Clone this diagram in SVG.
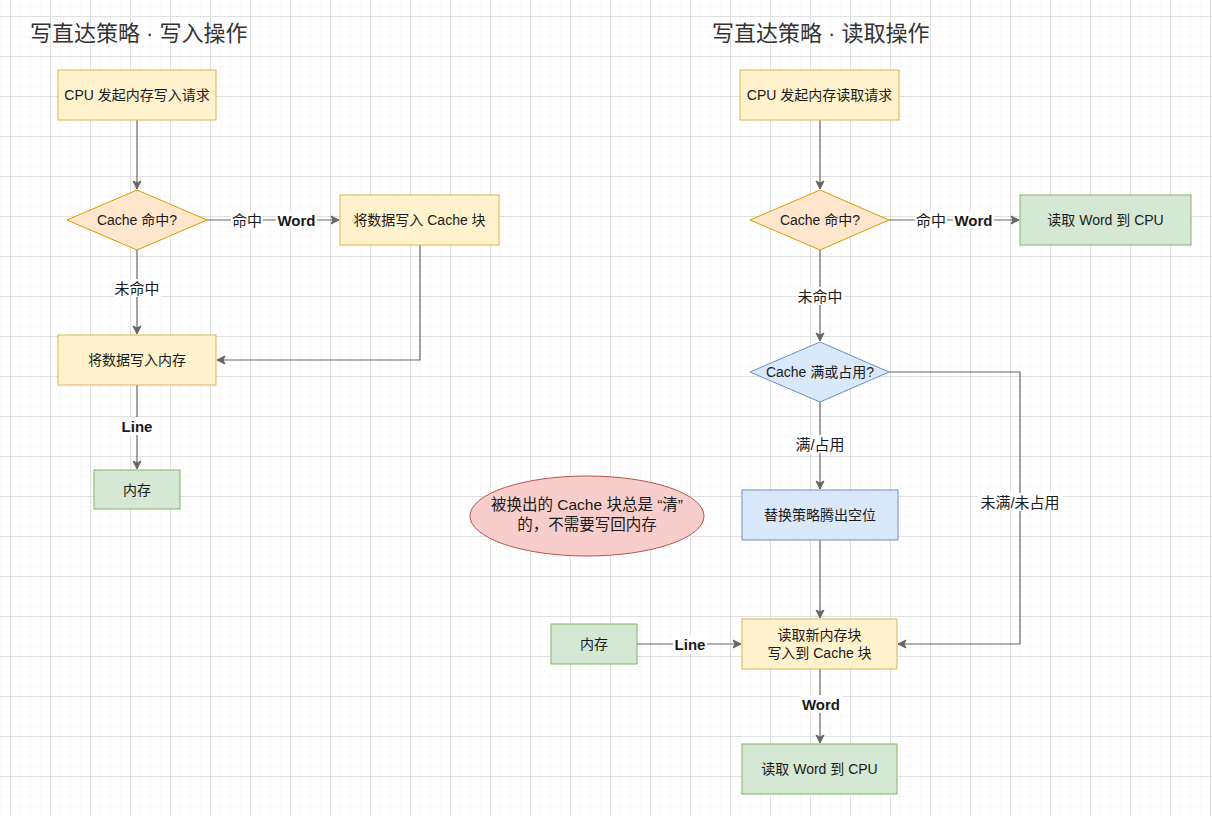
<svg xmlns="http://www.w3.org/2000/svg" width="1212" height="816" viewBox="0 0 1212 816">
<defs>
<pattern id="minor" patternUnits="userSpaceOnUse" x="0" y="6" width="10" height="10">
<path d="M0 0H10M0 0V10" fill="none" stroke="#f3f3f3" stroke-width="1"/>
</pattern>
<pattern id="major" patternUnits="userSpaceOnUse" x="10" y="16" width="40" height="40">
<path d="M0 0.5H40M0.5 0V40" fill="none" stroke="#e0e0e0" stroke-width="1"/>
</pattern>
<marker id="arr" markerWidth="10" markerHeight="10" refX="9" refY="5" orient="auto" markerUnits="userSpaceOnUse">
<path d="M1 1L9 5L1 9L3 5Z" fill="#666" stroke="#666" stroke-width="1"/>
</marker>
<style>
text{font-family:"Liberation Sans","Noto Sans CJK SC",sans-serif;fill:#1a1a1a}
.t{font-size:14px;text-anchor:middle;dominant-baseline:central}
.n{font-size:15.5px}
.title{font-size:22px;fill:#333}
.lbl{font-size:15px;text-anchor:middle;dominant-baseline:central}
.b{font-weight:bold}
.y{fill:#fff2cc;stroke:#d6b656}
.g{fill:#d5e8d4;stroke:#82b366}
.o{fill:#ffe6cc;stroke:#d79b00}
.bl{fill:#dae8fc;stroke:#6c8ebf}
.r{fill:#f8cecc;stroke:#b85450}
.e{fill:none;stroke:#666;stroke-width:1.2}
.bg{fill:#fff}
</style>
</defs>
<rect width="1212" height="816" fill="#fff"/>
<rect width="1212" height="816" fill="url(#minor)"/>
<rect width="1212" height="816" fill="url(#major)"/>

<text class="title" x="30" y="41">写直达策略 · 写入操作</text>
<text class="title" x="712" y="41">写直达策略 · 读取操作</text>

<g id="connectors">
<path class="e" d="M137 120V189" marker-end="url(#arr)"/>
<path class="e" d="M207 220H339" marker-end="url(#arr)"/>
<path class="e" d="M420 245V360H217" marker-end="url(#arr)"/>
<path class="e" d="M137 250V334" marker-end="url(#arr)"/>
<path class="e" d="M137 385V469" marker-end="url(#arr)"/>
<path class="e" d="M820 120V189" marker-end="url(#arr)"/>
<path class="e" d="M889 220H1019" marker-end="url(#arr)"/>
<path class="e" d="M820 250V341" marker-end="url(#arr)"/>
<path class="e" d="M820 402V489" marker-end="url(#arr)"/>
<path class="e" d="M820 540V618" marker-end="url(#arr)"/>
<path class="e" d="M889 372H1020V644H898" marker-end="url(#arr)"/>
<path class="e" d="M637 644H741" marker-end="url(#arr)"/>
<path class="e" d="M820 669V743" marker-end="url(#arr)"/>
<rect class="bg" x="231" y="211" width="32" height="18"/>
<text class="lbl" x="247" y="220">命中</text>
<rect class="bg" x="276" y="211" width="41" height="18"/>
<text class="lbl b" x="296.5" y="220">Word</text>
<rect class="bg" x="915" y="211" width="32" height="18"/>
<text class="lbl" x="931" y="220">命中</text>
<rect class="bg" x="953" y="211" width="41" height="18"/>
<text class="lbl b" x="973.5" y="220">Word</text>
<rect class="bg" x="114" y="279" width="47" height="18"/>
<text class="lbl" x="137" y="288">未命中</text>
<rect class="bg" x="120" y="417" width="34" height="18"/>
<text class="lbl b" x="137" y="426">Line</text>
<rect class="bg" x="796" y="287" width="48" height="18"/>
<text class="lbl" x="820" y="296">未命中</text>
<rect class="bg" x="794" y="435" width="52" height="18"/>
<text class="lbl" x="820" y="444">满/占用</text>
<rect class="bg" x="978" y="493" width="84" height="18"/>
<text class="lbl" x="1020" y="502">未满/未占用</text>
<rect class="bg" x="673" y="635" width="34" height="18"/>
<text class="lbl b" x="690" y="644">Line</text>
<rect class="bg" x="800" y="695" width="42" height="18"/>
<text class="lbl b" x="821" y="704">Word</text>
</g>

<g id="w-start"><rect class="y" x="58" y="70" width="158" height="50"/><text class="t" x="137" y="95">CPU 发起内存写入请求</text></g>
<g id="w-hit"><path class="o" d="M137 190L207 220L137 250L67 220Z"/><text class="t" x="137" y="220">Cache 命中?</text></g>
<g id="w-cache"><rect class="y" x="340" y="195" width="159" height="50"/><text class="t" x="419.5" y="220">将数据写入 Cache 块</text></g>
<g id="w-mem"><rect class="y" x="58" y="335" width="158" height="50"/><text class="t" x="137" y="360">将数据写入内存</text></g>
<g id="w-memory"><rect class="g" x="94" y="470" width="86" height="39"/><text class="t" x="137" y="490">内存</text></g>

<g id="r-start"><rect class="y" x="740" y="70" width="159" height="50"/><text class="t" x="819.5" y="95">CPU 发起内存读取请求</text></g>
<g id="r-hit"><path class="o" d="M820 190L889 220L820 250L750 220Z"/><text class="t" x="820" y="220">Cache 命中?</text></g>
<g id="r-read"><rect class="g" x="1020" y="195" width="171" height="50"/><text class="t" x="1105.5" y="220">读取 Word 到 CPU</text></g>
<g id="r-full"><path class="bl" d="M820 342L889 372L820 402L750 372Z"/><text class="t" x="820" y="372">Cache 满或占用?</text></g>
<g id="r-replace"><rect class="bl" x="742" y="490" width="156" height="50"/><text class="t" x="820" y="515">替换策略腾出空位</text></g>
<g id="r-load"><rect class="y" x="742" y="619" width="155" height="50"/><text class="t" x="819.5" y="635">读取新内存块</text><text class="t" x="819.5" y="653">写入到 Cache 块</text></g>
<g id="r-memory"><rect class="g" x="551" y="624" width="86" height="40"/><text class="t" x="594" y="644">内存</text></g>
<g id="r-cpu"><rect class="g" x="742" y="744" width="155" height="50"/><text class="t" x="819.5" y="769">读取 Word 到 CPU</text></g>
<g id="note"><ellipse class="r" cx="587" cy="516" rx="117" ry="40"/><text class="t n" x="587" y="504">被换出的 Cache 块总是 “清”</text><text class="t n" x="587" y="524">的，不需要写回内存</text></g>
</svg>
